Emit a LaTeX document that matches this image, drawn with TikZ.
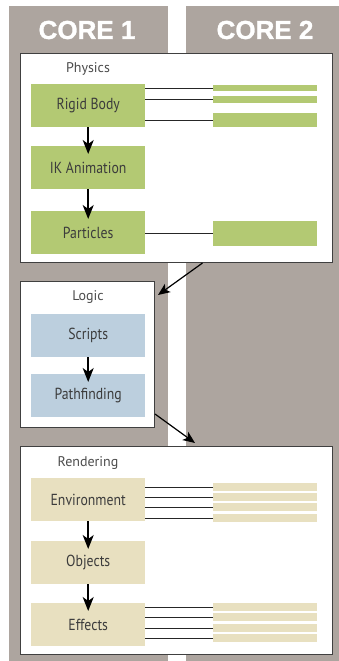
\documentclass[tikz,border=0pt]{standalone}
\usepackage{fontspec}
\setmainfont{PT Sans}
\newfontfamily\taskfont[FakeStretch=0.86]{PT Sans}
\newfontfamily\titlefont[FakeBold=1.2]{Liberation Sans}
\usetikzlibrary{arrows.meta}
\definecolor{colgray}{HTML}{ADA59F}
\definecolor{physgreen}{HTML}{B3C973}
\definecolor{logicblue}{HTML}{BCCFDE}
\definecolor{rendbeige}{HTML}{E8E0C0}
\definecolor{textgray}{HTML}{3C3C3C}
\tikzstyle{arrow} = [line width=1.5pt,-{Stealth[length=14pt,width=11pt,inset=4pt]}]
\tikzstyle{handover} = [line width=1.2pt,-{Stealth[length=12pt,width=10pt,inset=3pt]}]

\begin{document}
\begin{tikzpicture}
        [x=1pt,y=-1pt,
            core/.style={fill=colgray},
            title/.style={text=white,font=\titlefont\bfseries\fontsize{26}{26}\selectfont},
            group/.style={draw=black!75,line width=1pt,fill=white,anchor=north west,inner sep=0pt},
            grouplabel/.style={text=black!70,font=\fontsize{14}{14}\selectfont},
            task/.style={minimum width=114pt,minimum height=43pt,inner sep=0pt,anchor=north west,text=textgray,font=\taskfont\fontsize{16}{16}\selectfont},
            bar/.style={minimum width=104pt,inner sep=0pt,anchor=north west},
            link/.style={black!85,line width=0.9pt},
        ]
    \useasboundingbox[fill=white] (0,0) rectangle (339,661);

    % the two cores
    \fill[core] (9,6) rectangle (168,661);
    \fill[core] (186,6) rectangle (339,661);
    \node[title] (core1) at (87,30) {CORE 1};
    \node[title] (core2) at (265,30) {CORE 2};

    % groups
    \node[group,minimum width=312pt,minimum height=209pt] (physics) at (20,53) {};
    \node[group,minimum width=134pt,minimum height=146pt] (logic) at (20,281) {};
    \node[group,minimum width=312pt,minimum height=208pt] (rendering) at (20,446) {};
    \node[grouplabel] (physlabel) at (88,69) {Physics};
    \node[grouplabel] (logiclabel) at (88,297) {Logic};
    \node[grouplabel] (rendlabel) at (88,463) {Rendering};

    % physics
    \node[task,fill=physgreen] (rigid) at (31,84) {Rigid Body};
    \node[task,fill=physgreen] (ik) at (31,146) {IK Animation};
    \node[task,fill=physgreen] (particles) at (31,211) {Particles};
    \draw[arrow] (rigid.south) -- ([yshift=-8pt]ik.north);
    \draw[arrow] (ik.south) -- ([yshift=-8pt]particles.north);
    \node[bar,fill=physgreen,minimum height=6pt] (rb1) at (213,85) {};
    \node[bar,fill=physgreen,minimum height=7pt] (rb2) at (213,96) {};
    \node[bar,fill=physgreen,minimum height=14pt] (rb3) at (213,113) {};
    \node[bar,fill=physgreen,minimum height=25pt] (pt1) at (213,221) {};
    \foreach \i in {1,2,3}
        \draw[link] (rb\i.west) -- (rb\i.west -| rigid.east);
    \draw[link] (pt1.west) -- (pt1.west -| particles.east);

    % logic
    \node[task,fill=logicblue] (scripts) at (31,314) {Scripts};
    \node[task,fill=logicblue] (pathfinding) at (31,374) {Pathfinding};
    \draw[arrow] (scripts.south) -- ([yshift=-8pt]pathfinding.north);

    % rendering
    \node[task,fill=rendbeige] (environment) at (31,478) {Environment};
    \node[task,fill=rendbeige] (objects) at (31,541) {Objects};
    \node[task,fill=rendbeige] (effects) at (31,603) {Effects};
    \draw[arrow] (environment.south) -- ([yshift=-8pt]objects.north);
    \draw[arrow] (objects.south) -- ([yshift=-8pt]effects.north);
    \foreach \y [count=\i] in {483,493,503,514}{
        \node[bar,fill=rendbeige,minimum height=8pt] (env\i) at (213,\y) {};
        \draw[link] (env\i.west) -- (env\i.west -| environment.east);
    }
    \foreach \y [count=\i] in {603,613,624,634}{
        \node[bar,fill=rendbeige,minimum height=8pt] (eff\i) at (213,\y) {};
        \draw[link] (eff\i.west) -- (eff\i.west -| effects.east);
    }

    % hand over between groups
    \draw[handover] ([xshift=26pt]physics.south) -- ([xshift=3pt,yshift=-14pt]logic.north east);
    \draw[handover] ([yshift=14pt]logic.south east) -- ([xshift=175pt,yshift=3pt]rendering.north west);
    \end{tikzpicture}
\end{document}
